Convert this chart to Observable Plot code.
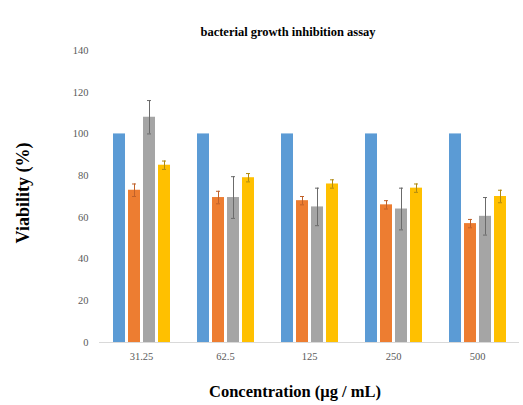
<!DOCTYPE html>
<html><head><meta charset="utf-8">
<script src="https://cdn.jsdelivr.net/npm/d3@7"></script>
<script src="https://cdn.jsdelivr.net/npm/@observablehq/plot@0.6"></script>
<style>
body{margin:0;background:#fff;}
#wrap{position:relative;width:523px;height:405px;font-family:"Liberation Serif","Times New Roman",serif;}
#wrap svg{position:absolute;left:0;top:0;}
.t{position:absolute;font-weight:bold;color:#000;white-space:nowrap;}
</style></head>
<body><div id="wrap"></div>
<script>
const concentrations = ["31.25", "62.5", "125", "250", "500"];
const series = ["A", "B", "C", "D"];
const values = {
  A: [100, 100, 100, 100, 100],
  B: [73, 69.5, 68, 66, 57],
  C: [108, 69.5, 65, 64, 60.5],
  D: [85, 79, 76, 74, 70]
};
const errors = {
  A: [0, 0, 0, 0, 0],
  B: [3, 3, 2, 2, 2],
  C: [8, 10, 9, 10, 9],
  D: [2, 2, 2, 2, 3]
};
const yTicks = [0, 20, 40, 60, 80, 100, 120, 140];
const colors = ["#5B9BD5", "#ED7D31", "#A5A5A5", "#FFC000"];
const errColors = ["#2e6ca6", "#c0612a", "#6b6b6b", "#b08a10"];

const rows = [];
concentrations.forEach((c, i) => series.forEach(s => {
  rows.push({c, s, v: values[s][i], e: errors[s][i]});
}));
const errRows = rows.filter(d => d.e > 0);

const chart = Plot.plot({
  width: 523, height: 405,
  marginLeft: 99, marginRight: 4, marginTop: 50, marginBottom: 63,
  style: {fontFamily: "Liberation Serif, serif", fontSize: "10.5px", color: "#595959", background: "transparent"},
  fx: {domain: concentrations, padding: 0, label: null, tickSize: 0, tickPadding: 10},
  x: {domain: series, paddingInner: 0.22, paddingOuter: 0.855, axis: null},
  y: {domain: [0, 140], label: null, axis: null},
  color: {domain: series, range: colors},
  marks: [
    Plot.axisY({ticks: yTicks, tickSize: 0, tickPadding: 11, line: true, stroke: "#d9d9d9", fill: "#595959", label: null}),
    Plot.ruleY([0], {stroke: "#d9d9d9"}),
    Plot.barY(rows, {fx: "c", x: "s", y: "v", fill: "s"}),
    Plot.ruleX(errRows, {fx: "c", x: "s", y1: d => d.v - d.e, y2: d => d.v + d.e, stroke: d => errColors[series.indexOf(d.s)], strokeWidth: 1}),
    Plot.tickY(errRows, {fx: "c", x: "s", y: d => d.v + d.e, stroke: d => errColors[series.indexOf(d.s)], insetLeft: 4, insetRight: 4}),
    Plot.tickY(errRows, {fx: "c", x: "s", y: d => d.v - d.e, stroke: d => errColors[series.indexOf(d.s)], insetLeft: 4, insetRight: 4})
  ]
});
const wrap = document.getElementById("wrap");
wrap.appendChild(chart);
function addText(txt, css) {
  const d = document.createElement("div");
  d.className = "t"; d.textContent = txt; d.style.cssText = css;
  wrap.appendChild(d);
}
addText("bacterial growth inhibition assay", "left:288px;top:25px;font-size:12.5px;transform:translateX(-50%);");
addText("Viability (%)", "left:23px;top:193px;font-size:18px;transform:translate(-50%,-50%) rotate(-90deg);");
addText("Concentration (\u03bcg / mL)", "left:295px;top:382px;font-size:16.5px;transform:translateX(-50%);");
</script></body></html>
